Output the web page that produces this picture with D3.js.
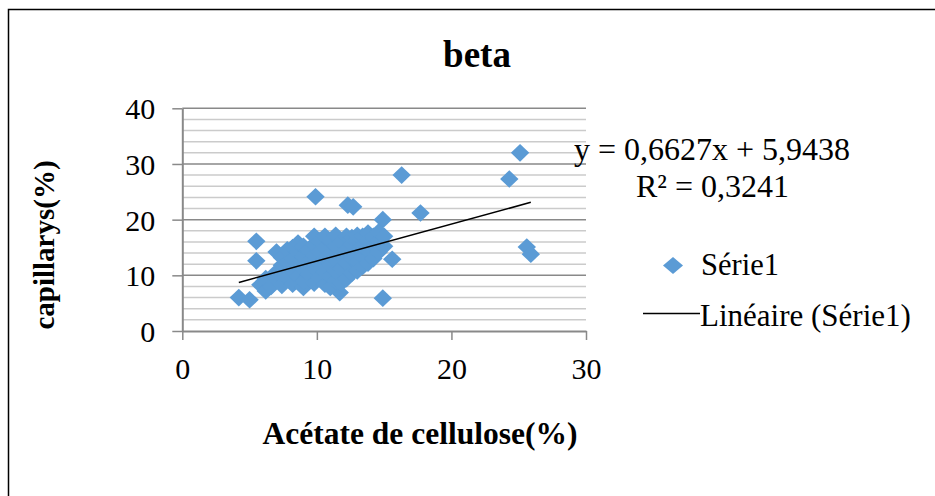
<!DOCTYPE html>
<html>
<head>
<meta charset="utf-8">
<script src="https://cdn.jsdelivr.net/npm/d3@7"></script>
<style>
  body { margin: 0; background: #fff; }
  svg { display: block; }
</style>
</head>
<body>
<svg id="chart" width="935" height="496"></svg>
<script>
// Acétate de cellulose (%) per sample
const xValues = [
  25.1, 24.3, 16.3, 17.7, 25.6, 25.9, 15.6, 14.9, 9.9, 12.3, 12.7, 14.9, 5.5, 5.5, 4.2, 5.0, 11.7,
  5.8, 6.2, 6.2, 6.6, 6.8, 7.0, 7.0, 7.4, 7.4, 7.4, 7.8, 7.8, 7.8, 8.2, 8.2, 8.2, 8.2,
  8.6, 8.6, 8.6, 8.6, 9.0, 9.0, 9.0, 9.0, 9.0, 9.4, 9.4, 9.4, 9.8, 9.8, 9.8, 9.8, 9.8,
  10.2, 10.2, 10.2, 10.2, 10.6, 10.6, 10.6, 10.6, 10.6, 11.0, 11.0, 11.0, 11.0, 11.0,
  11.4, 11.4, 11.4, 11.4, 11.4, 11.8, 11.8, 11.8, 11.8, 12.2, 12.2, 12.2, 12.2,
  12.6, 12.6, 12.6, 12.6, 13.0, 13.0, 13.0, 13.0, 13.0, 13.4, 13.4, 13.4, 13.4,
  13.8, 13.8, 13.8, 13.8, 14.2, 14.2, 14.2, 14.6, 14.6, 14.6, 15.0, 15.0
];
// capillarys (%) per sample
const yValues = [
  32.0, 27.3, 28.0, 21.2, 15.1, 13.8, 12.9, 5.9, 24.1, 22.6, 22.3, 20.0, 16.1, 12.6, 6.0, 5.6, 6.9,
  8.3, 7.2, 9.4, 8.0, 9.8, 10.6, 14.2, 8.2, 11.8, 13.2, 9.6, 12.4, 14.6, 8.4, 10.8, 13.0, 15.0,
  9.8, 12.0, 14.2, 15.8, 7.8, 9.0, 11.2, 13.4, 15.2, 10.2, 12.4, 14.6, 8.6, 11.4, 13.6, 15.6, 17.0,
  9.6, 12.0, 14.2, 16.2, 8.4, 10.6, 13.0, 15.0, 17.0, 7.8, 9.8, 11.8, 14.0, 16.2,
  9.0, 10.8, 12.8, 15.2, 17.2, 8.6, 11.2, 13.6, 16.0, 9.4, 12.2, 14.6, 17.0,
  10.4, 13.0, 15.6, 16.8, 10.8, 12.4, 14.2, 16.4, 17.2, 11.6, 13.4, 15.2, 17.0,
  12.2, 14.4, 16.2, 17.6, 13.0, 15.4, 17.0, 14.2, 16.2, 17.8, 15.2, 17.0
];
const xTicks = [0, 10, 20, 30];
const yTicks = [0, 10, 20, 30, 40];
const yMinorTicks = [2, 4, 6, 8, 12, 14, 16, 18, 22, 24, 26, 28, 32, 34, 36, 38];

// Linear trend line y = a·x + b, as reported on the chart
const trendSlope = 0.6627;
const trendIntercept = 5.9438;
const trendR2 = 0.3241;

const chartTitle = "beta";
const xTitle = "Acétate de cellulose(%)";
const yTitle = "capillarys(%)";
const seriesName = "Série1";
const trendName = "Linéaire (Série1)";

const fmt = v => String(v).replace(".", ",");

const FONT = "'Liberation Serif', 'Times New Roman', serif";
const BLUE = "#5B9BD5";
const MAJOR = "#898989";
const MINOR = "#cbcbcb";

const svg = d3.select("#chart");

// outer frame
svg.append("rect")
  .attr("x", 8.5).attr("y", 9.5)
  .attr("width", 1000).attr("height", 1000)
  .attr("fill", "none").attr("stroke", "#000").attr("stroke-width", 1.5);

const x = d3.scaleLinear().domain([0, 30]).range([182.3, 586]);
const y = d3.scaleLinear().domain([0, 40]).range([331, 108.3]);

function label(parent, px, py, str, size, weight, anchor) {
  return parent.append("text")
    .attr("x", px).attr("y", py)
    .attr("text-anchor", anchor || "start")
    .attr("font-family", FONT)
    .attr("font-size", size)
    .attr("font-weight", weight || "normal")
    .attr("fill", "#000")
    .text(str);
}

// gridlines
const grid = svg.append("g");
grid.selectAll("line.minor").data(yMinorTicks).join("line")
  .attr("class", "minor")
  .attr("x1", x(0)).attr("x2", x(30))
  .attr("y1", d => y(d)).attr("y2", d => y(d))
  .attr("stroke", MINOR).attr("stroke-width", 1.5);
grid.selectAll("line.major").data(yTicks.filter(d => d > 0)).join("line")
  .attr("class", "major")
  .attr("x1", x(0)).attr("x2", x(30))
  .attr("y1", d => y(d)).attr("y2", d => y(d))
  .attr("stroke", MAJOR).attr("stroke-width", 1.5);

// y axis
const yAxis = svg.append("g")
  .attr("transform", `translate(${x(0)},0)`)
  .call(d3.axisLeft(y).tickValues(yTicks).tickSize(10).tickSizeOuter(0));
yAxis.select(".domain").attr("stroke", MAJOR).attr("stroke-width", 2);
yAxis.selectAll(".tick line").attr("stroke", MAJOR).attr("stroke-width", 1.5);
yAxis.selectAll(".tick text")
  .attr("x", -27).attr("dy", "0.35em")
  .attr("font-family", FONT).attr("font-size", 30).attr("fill", "#000");

// x axis
const xAxis = svg.append("g")
  .attr("transform", `translate(0,${y(0)})`)
  .call(d3.axisBottom(x).tickValues(xTicks).tickSize(9).tickSizeOuter(0));
xAxis.select(".domain").attr("stroke", MAJOR).attr("stroke-width", 2);
xAxis.selectAll(".tick line").attr("stroke", MAJOR).attr("stroke-width", 1.5);
xAxis.selectAll(".tick text")
  .attr("y", 48).attr("dy", 0)
  .attr("font-family", FONT).attr("font-size", 30).attr("fill", "#000");

// scatter markers
const diamond = (rw, rh) => `M0,${-rh}L${rw},0L0,${rh}L${-rw},0Z`;
const pts = xValues.map((v, i) => [v, yValues[i]]);
svg.append("g").selectAll("path").data(pts).join("path")
  .attr("d", diamond(9.2, 8.8))
  .attr("transform", d => `translate(${x(d[0])},${y(d[1])})`)
  .attr("fill", BLUE);

// trend line across the data range
const [xMin, xMax] = d3.extent(xValues);
svg.append("line")
  .attr("x1", x(xMin)).attr("y1", y(trendSlope * xMin + trendIntercept))
  .attr("x2", x(xMax)).attr("y2", y(trendSlope * xMax + trendIntercept))
  .attr("stroke", "#000").attr("stroke-width", 1.5);

// equation and R²
label(svg, 574, 160, `y = ${fmt(trendSlope)}x + ${fmt(trendIntercept)}`, 32);
label(svg, 636, 197, `R² = ${fmt(trendR2)}`, 32);

// titles
label(svg, 477, 67, chartTitle, 37, "bold", "middle");
label(svg, 420, 444, xTitle, 31.5, "bold", "middle");
svg.append("text")
  .attr("transform", "translate(54,245) rotate(-90)")
  .attr("text-anchor", "middle")
  .attr("font-family", FONT).attr("font-size", 29).attr("font-weight", "bold")
  .attr("fill", "#000")
  .text(yTitle);

// legend
const legend = svg.append("g");
legend.append("path")
  .attr("d", diamond(10, 8.6))
  .attr("transform", "translate(673,265.5)")
  .attr("fill", BLUE);
label(legend, 701, 275, seriesName, 30.5);
legend.append("line")
  .attr("x1", 643).attr("x2", 700).attr("y1", 313.5).attr("y2", 313.5)
  .attr("stroke", "#000").attr("stroke-width", 1.5);
label(legend, 700, 326, trendName, 31);
</script>
</body>
</html>
